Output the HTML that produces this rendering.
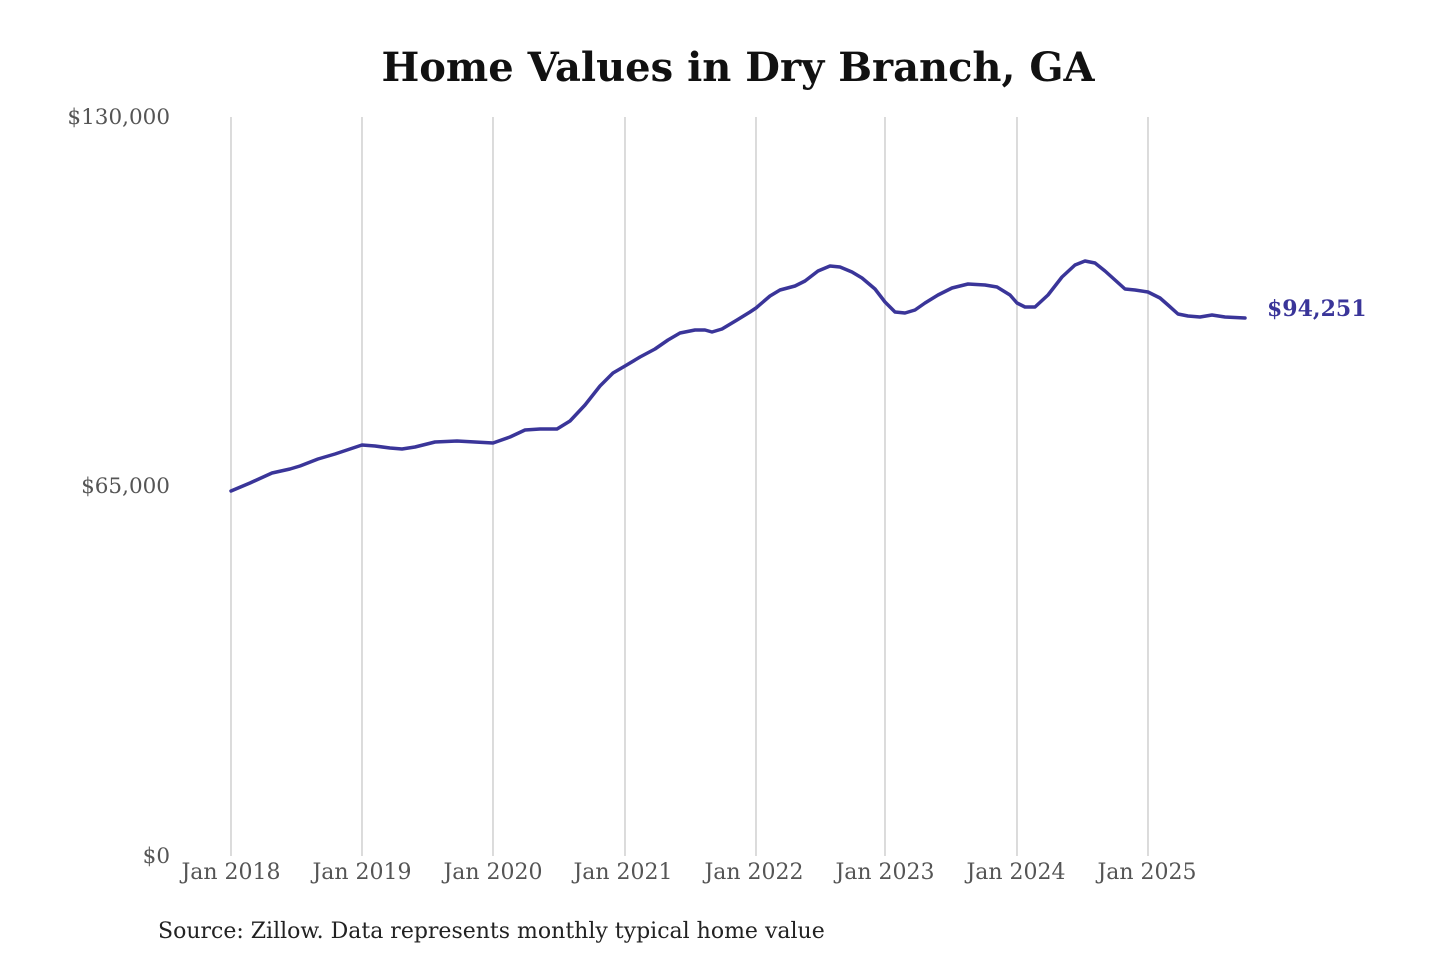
<!DOCTYPE html>
<html><head><meta charset="utf-8"><style>
html,body{margin:0;padding:0;background:#fff;width:1440px;height:960px;overflow:hidden}
svg{display:block}
text{font-family:"DejaVu Serif","Liberation Serif",serif}
</style></head><body>
<svg width="1440" height="960" viewBox="0 0 1440 960">
<rect width="1440" height="960" fill="#fff"/>
<text x="738" y="81" text-anchor="middle" font-size="40" font-weight="bold" fill="#111">Home Values in Dry Branch, GA</text>
<g stroke="#c8c8c8" stroke-width="1.3">
<line x1="231" y1="117" x2="231" y2="856"/>
<line x1="362" y1="117" x2="362" y2="856"/>
<line x1="493" y1="117" x2="493" y2="856"/>
<line x1="625" y1="117" x2="625" y2="856"/>
<line x1="756" y1="117" x2="756" y2="856"/>
<line x1="885" y1="117" x2="885" y2="856"/>
<line x1="1017" y1="117" x2="1017" y2="856"/>
<line x1="1148" y1="117" x2="1148" y2="856"/>
</g>
<g font-size="21.5" fill="#555" text-anchor="end">
<text x="170" y="124">$130,000</text>
<text x="170" y="493">$65,000</text>
<text x="170" y="863">$0</text>
</g>
<g font-size="22" fill="#555" text-anchor="middle">
<text x="231" y="879">Jan 2018</text>
<text x="362" y="879">Jan 2019</text>
<text x="493" y="879">Jan 2020</text>
<text x="623" y="879">Jan 2021</text>
<text x="754" y="879">Jan 2022</text>
<text x="885" y="879">Jan 2023</text>
<text x="1016" y="879">Jan 2024</text>
<text x="1147" y="879">Jan 2025</text>
</g>
<polyline fill="none" stroke="#3a3599" stroke-width="3.5" stroke-linejoin="round" stroke-linecap="round" points="231,491 250,483 272,473 290,469 300,466 318,459 335,454 350,449 362,445 375,446 390,448 402,449 415,447 435,442 457,441 475,442 493,443 510,437 525,430 540,429 557,429 570,421 585,405 600,386 613,373 625,366 640,357 655,349 668,340 680,333 695,330 705,330 712,332 722,329 737,320 750,312 756,308 770,296 780,290 795,286 805,281 818,271 830,266 840,267 852,272 862,278 875,289 885,302 895,312 905,313 915,310 925,303 938,295 952,288 968,284 985,285 997,287 1010,295 1017,303 1025,307 1035,307 1048,295 1062,277 1075,265 1085,261 1095,263 1105,271 1115,280 1125,289 1135,290 1148,292 1160,298 1168,305 1178,314 1188,316 1200,317 1212,315 1225,317 1245,318"/>
<text x="1267" y="316" font-size="22" font-weight="bold" fill="#3a3599">$94,251</text>
<text x="158" y="938" font-size="22" fill="#222">Source: Zillow. Data represents monthly typical home value</text>
</svg>
</body></html>
